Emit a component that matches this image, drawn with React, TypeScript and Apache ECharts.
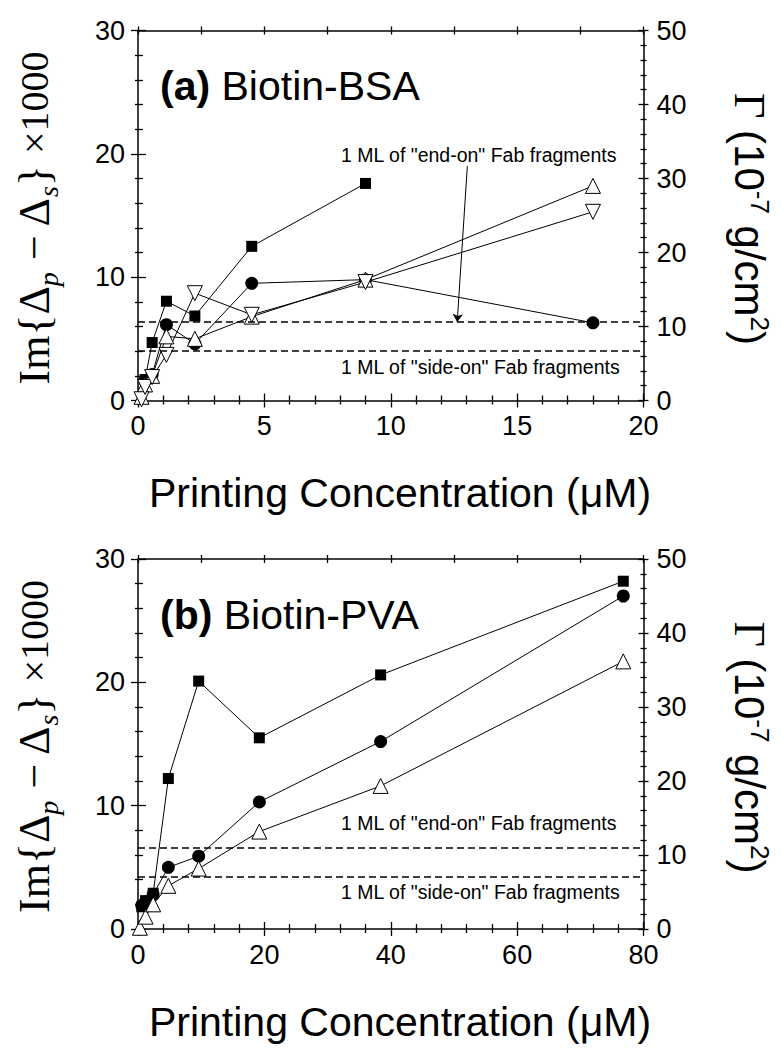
import React, { useEffect, useRef } from 'react';
import * as echarts from 'echarts';

// ---------- Panel (a): Biotin-BSA ----------
const bsaSquareX = [0.28, 0.56, 1.125, 2.25, 4.5, 9];
const bsaSquareY = [1.7, 4.7, 8.05, 6.85, 12.5, 17.6];
const bsaCircleX = [0.28, 0.56, 1.125, 2.25, 4.5, 9, 18];
const bsaCircleY = [1.6, 2.1, 6.15, 4.6, 9.5, 9.8, 6.3];
const bsaTriX = [0.14, 0.28, 0.56, 1.125, 2.25, 4.5, 9, 18];
const bsaUpY = [0.3, 1.3, 2.0, 5.2, 5.0, 6.8, 9.8, 17.4];
const bsaDownY = [0.1, 1.1, 1.9, 3.7, 8.7, 6.95, 9.6, 15.3];
const bsaMonolayers = [6.37, 4.07]; // end-on, side-on
const bsaArrowFrom = [13.03, 19.0];
const bsaArrowTo = [12.63, 6.37];

// ---------- Panel (b): Biotin-PVA ----------
const pvaX = [0.6, 1.2, 2.4, 4.8, 9.6, 19.2, 38.4, 76.8];
const pvaSquareY = [1.8, 2.3, 2.9, 12.2, 20.1, 15.5, 20.6, 28.2];
const pvaCircleY = [1.9, 2.2, 2.8, 5.0, 5.9, 10.3, 15.2, 27.0];
const pvaTriX = [0.3, 1.2, 2.4, 4.8, 9.6, 19.2, 38.4, 76.8];
const pvaTriY = [0.1, 1.0, 2.0, 3.5, 4.9, 7.9, 11.6, 21.7];
const pvaMonolayers = [6.62, 4.27];

// ---------- Axes ----------
const xMaxes = [20, 80];
const xIntervals = [5, 20];
const leftMax = 30;
const leftInterval = 10;
const rightMax = 50;
const rightInterval = 10;

// ---------- Texts ----------
const panelLetters = ['(a)', '(b)'];
const panelNames = ['Biotin-BSA', 'Biotin-PVA'];
const xTitle = 'Printing Concentration (\u03bcM)';
const endOnLabel = '1 ML of "end-on" Fab fragments';
const sideOnLabel = '1 ML of "side-on" Fab fragments';

const SANS = "'Liberation Sans', Arial, Helvetica, sans-serif";
const SERIF = "'Liberation Serif', 'Times New Roman', serif";

const zip = (xs: number[], ys: number[]) => xs.map((x, i) => [x, ys[i]]);

const GRID_LEFT = 138;
const GRID_W = 505.5;
const GRID_H = 370;
const GRID_TOPS = [30.5, 559];

const tickLine = { color: '#000', width: 1.3 };

function xAxesFor(gi: number) {
  const max = xMaxes[gi];
  const interval = xIntervals[gi];
  const base = { type: 'value', gridIndex: gi, min: 0, splitLine: { show: false } };
  return [
    {
      ...base, max, interval, position: 'bottom',
      axisLine: { show: true, onZero: false, lineStyle: { color: '#000', width: 1.5 } },
      axisTick: { show: true, inside: false, length: 7, lineStyle: tickLine },
      minorTick: { show: true, splitNumber: 5, length: 4, lineStyle: tickLine },
      axisLabel: { show: true, color: '#000', fontSize: 27, fontFamily: SANS, margin: 12 },
    },
    {
      ...base, max, interval, position: 'bottom',
      axisLine: { show: false, onZero: false },
      axisTick: { show: true, inside: true, length: 7, lineStyle: tickLine },
      minorTick: { show: true, splitNumber: 5, length: 5, lineStyle: tickLine },
      axisLabel: { show: false },
    },
    {
      ...base, max: 8, interval: 1, position: 'top',
      axisLine: { show: true, onZero: false, lineStyle: { color: '#000', width: 1.5 } },
      axisTick: { show: true, inside: false, length: 4, lineStyle: tickLine },
      axisLabel: { show: false },
    },
    {
      ...base, max: 8, interval: 1, position: 'top',
      axisLine: { show: false, onZero: false },
      axisTick: { show: true, inside: true, length: 4, lineStyle: tickLine },
      axisLabel: { show: false },
    },
  ];
}

function yAxesFor(gi: number) {
  const base = { type: 'value', gridIndex: gi, min: 0, splitLine: { show: false } };
  return [
    {
      ...base, max: leftMax, interval: leftInterval, position: 'left',
      axisLine: { show: true, onZero: false, lineStyle: { color: '#000', width: 1.5 } },
      axisTick: { show: true, inside: false, length: 7, lineStyle: tickLine },
      minorTick: { show: true, splitNumber: 5, length: 3, lineStyle: tickLine },
      axisLabel: { show: true, color: '#000', fontSize: 27, fontFamily: SANS, margin: 13 },
    },
    {
      ...base, max: leftMax, interval: leftInterval, position: 'left',
      axisLine: { show: false, onZero: false },
      axisTick: { show: true, inside: true, length: 8, lineStyle: tickLine },
      minorTick: { show: true, splitNumber: 5, length: 5, lineStyle: tickLine },
      axisLabel: { show: false },
    },
    {
      ...base, max: rightMax, interval: rightInterval, position: 'right',
      axisLine: { show: true, onZero: false, lineStyle: { color: '#000', width: 1.5 } },
      axisTick: { show: true, inside: false, length: 5, lineStyle: tickLine },
      minorTick: { show: true, splitNumber: 5, length: 3, lineStyle: tickLine },
      axisLabel: { show: true, color: '#000', fontSize: 27, fontFamily: SANS, margin: 13 },
    },
    {
      ...base, max: rightMax, interval: rightInterval, position: 'right',
      axisLine: { show: false, onZero: false },
      axisTick: { show: true, inside: true, length: 5, lineStyle: tickLine },
      minorTick: { show: true, splitNumber: 5, length: 3, lineStyle: tickLine },
      axisLabel: { show: false },
    },
  ];
}

type Kind = 'square' | 'circle' | 'up' | 'down';

function markerSeries(name: string, data: number[][], gi: number, kind: Kind, extra: any = {}) {
  const symbolMap: Record<Kind, any> = {
    square: { symbol: 'rect', symbolSize: 11, itemStyle: { color: '#000' } },
    circle: { symbol: 'circle', symbolSize: 13, itemStyle: { color: '#000' } },
    up: { symbol: 'triangle', symbolSize: 15, itemStyle: { color: '#fff', borderColor: '#000', borderWidth: 1 } },
    down: { symbol: 'triangle', symbolSize: 15, symbolRotate: 180, itemStyle: { color: '#fff', borderColor: '#000', borderWidth: 1 } },
  };
  return {
    type: 'line',
    name,
    data,
    xAxisIndex: gi * 4,
    yAxisIndex: gi * 4,
    showSymbol: true,
    showAllSymbol: true,
    silent: true,
    lineStyle: { color: '#000', width: 1 },
    ...symbolMap[kind],
    ...extra,
  };
}

function monolayerLines(values: number[]) {
  return {
    silent: true,
    symbol: 'none',
    label: { show: false },
    lineStyle: { color: '#000', width: 1.5, type: [7, 4] },
    data: values.map((v) => ({ yAxis: v })),
  };
}

export default function App() {
  const ref = useRef<HTMLDivElement>(null);

  useEffect(() => {
    if (!ref.current) return;
    const chart = echarts.init(ref.current, undefined, { renderer: 'svg' });

    const series: any[] = [
      markerSeries('BSA squares', zip(bsaSquareX, bsaSquareY), 0, 'square', { markLine: monolayerLines(bsaMonolayers) }),
      markerSeries('BSA circles', zip(bsaCircleX, bsaCircleY), 0, 'circle', {
        markLine: {
          silent: true,
          symbol: ['none', 'arrow'],
          symbolSize: 8,
          label: { show: false },
          lineStyle: { color: '#000', width: 1, type: 'solid' },
          data: [[{ coord: bsaArrowFrom }, { coord: bsaArrowTo }]],
        },
      }),
      markerSeries('BSA up triangles', zip(bsaTriX, bsaUpY), 0, 'up'),
      markerSeries('BSA down triangles', zip(bsaTriX, bsaDownY), 0, 'down'),
      markerSeries('PVA squares', zip(pvaX, pvaSquareY), 1, 'square', { markLine: monolayerLines(pvaMonolayers) }),
      markerSeries('PVA circles', zip(pvaX, pvaCircleY), 1, 'circle'),
      markerSeries('PVA triangles', zip(pvaTriX, pvaTriY), 1, 'up'),
    ];

    const graphic: any[] = [];
    const annoY = [
      [155, 367],
      [823, 892],
    ];
    [0, 1].forEach((p) => {
      const dy = GRID_TOPS[p] - GRID_TOPS[0];
      graphic.push({
        type: 'text', x: 160, y: 86 + dy, silent: true,
        style: {
          text: `{b|${panelLetters[p]}} ${panelNames[p]}`,
          fontFamily: SANS, fontSize: 41, fill: '#000', verticalAlign: 'middle', align: 'left',
          rich: { b: { fontFamily: SANS, fontSize: 41, fontWeight: 'bold', fill: '#000' } },
        },
      });
      graphic.push({
        type: 'text', x: 400, y: 493 + dy, silent: true,
        style: { text: xTitle, fontFamily: SANS, fontSize: 41, fill: '#000', align: 'center', verticalAlign: 'middle' },
      });
      graphic.push({
        type: 'text', x: 34, y: 218 + dy, rotation: Math.PI / 2, silent: true,
        style: {
          text: 'Im{\u0394{sub|p} \u2212 \u0394{sub|s}} {big|\u00d71000}',
          fontFamily: SERIF, fontSize: 44, lineHeight: 56, fill: '#000', align: 'center', verticalAlign: 'middle',
          rich: {
            sub: { fontFamily: SERIF, fontSize: 28, fontStyle: 'italic', lineHeight: 28, verticalAlign: 'bottom', fill: '#000' },
            big: { fontFamily: SERIF, fontSize: 40, lineHeight: 40, fill: '#000' },
          },
        },
      });
      graphic.push({
        type: 'text', x: 749, y: 219 + dy, rotation: -Math.PI / 2, silent: true,
        style: {
          text: '{g|\u0393} (10{sup|-7} g/cm{sup|2})',
          fontFamily: SANS, fontSize: 42, lineHeight: 48, fill: '#000', align: 'center', verticalAlign: 'middle',
          rich: {
            g: { fontFamily: SERIF, fontSize: 44, lineHeight: 48, fill: '#000' },
            sup: { fontFamily: SANS, fontSize: 26, lineHeight: 36, verticalAlign: 'top', fill: '#000' },
          },
        },
      });
      graphic.push({
        type: 'text', x: 341, y: annoY[p][0], silent: true,
        style: { text: endOnLabel, fontFamily: SANS, fontSize: 19.5, fill: '#000', align: 'left', verticalAlign: 'middle' },
      });
      graphic.push({
        type: 'text', x: 341, y: annoY[p][1], silent: true,
        style: { text: sideOnLabel, fontFamily: SANS, fontSize: 19.5, fill: '#000', align: 'left', verticalAlign: 'middle' },
      });
    });

    chart.setOption({
      animation: false,
      backgroundColor: '#fff',
      textStyle: { fontFamily: SANS },
      grid: GRID_TOPS.map((top) => ({ left: GRID_LEFT, top, width: GRID_W, height: GRID_H, containLabel: false })),
      xAxis: [...xAxesFor(0), ...xAxesFor(1)],
      yAxis: [...yAxesFor(0), ...yAxesFor(1)],
      series,
      graphic,
    });

    return () => chart.dispose();
  }, []);

  return (
    <div
      ref={ref}
      style={{ position: 'absolute', left: 0, top: 0, width: 783, height: 1050, background: '#fff' }}
    />
  );
}
